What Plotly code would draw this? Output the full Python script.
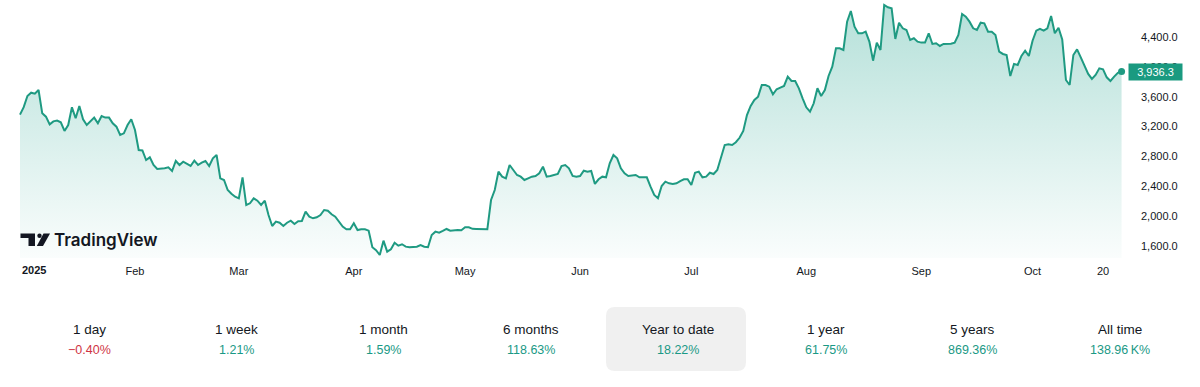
import plotly.graph_objects as go
import pandas as pd

# ---- data (daily closes) ----
jan = [3360, 3460, 3610, 3654, 3640, 3690, 3378, 3333, 3230, 3270, 3280, 3258, 3141, 3221, 3458, 3311,
       3476, 3298, 3221, 3266, 3320, 3244, 3342, 3320, 3320, 3244, 3199, 3087, 3110, 3221, 3298]
feb = [3154, 2886, 2880, 2752, 2788, 2685, 2632, 2632, 2641, 2654, 2605, 2739, 2685, 2730, 2699, 2672,
       2743, 2685, 2716, 2739, 2672, 2775, 2819, 2507, 2484, 2350, 2300, 2260]
mar = [2239, 2520, 2149, 2172, 2239, 2207, 2149, 2207, 2015, 1868, 1926, 1912, 1868, 1912, 1939, 1895,
       1931, 1935, 2060, 1993, 1971, 1985, 2015, 2082, 2073, 2025, 1993, 1926, 1859, 1824, 1824]
apr = [1904, 1814, 1824, 1824, 1805, 1583, 1545, 1479, 1671, 1524, 1556, 1644, 1604, 1623, 1591, 1583,
       1587, 1591, 1613, 1591, 1583, 1747, 1792, 1778, 1801, 1828, 1805, 1814, 1814, 1810]
may = [1850, 1850, 1830, 1828, 1828, 1824, 1824, 2216, 2350, 2596, 2529, 2507, 2685, 2618, 2551, 2529,
       2484, 2507, 2529, 2538, 2574, 2663, 2529, 2538, 2550, 2565, 2672, 2685, 2641, 2538, 2529]
jun = [2538, 2609, 2596, 2605, 2431, 2494, 2529, 2520, 2708, 2819, 2775, 2641, 2574, 2538, 2545, 2551,
       2520, 2520, 2520, 2395, 2283, 2239, 2404, 2462, 2440, 2431, 2440, 2470, 2494, 2494]
jul = [2417, 2582, 2596, 2520, 2529, 2582, 2565, 2618, 2775, 2953, 2962, 2953, 2990, 3050, 3141, 3355,
       3476, 3556, 3601, 3757, 3757, 3735, 3633, 3700, 3722, 3744, 3869, 3811, 3811, 3713, 3579]
aug = [3458, 3400, 3512, 3713, 3610, 3690, 3878, 4003, 4249, 4249, 4226, 4606, 4749, 4539, 4450, 4450,
       4472, 4338, 4083, 4325, 4226, 4829, 4798, 4785, 4374, 4592, 4517, 4494, 4360, 4383, 4338]
sep = [4325, 4325, 4450, 4307, 4316, 4280, 4307, 4307, 4310, 4325, 4427, 4709, 4673, 4606, 4517, 4494,
       4592, 4583, 4472, 4472, 4427, 4204, 4173, 4159, 3878, 4039, 4025, 4146, 4217, 4146]
octo = [4351, 4485, 4508, 4485, 4517, 4682, 4450, 4525, 4369, 3824, 3757, 4159, 4235, 4128, 4003, 3905,
        3838, 3892, 3981, 3968, 3860, 3811, 3869, 3920, 3936.3]

price = jan + feb + mar + apr + may + jun + jul + aug + sep + octo
dates = pd.date_range("2025-01-01", periods=len(price), freq="D")

year_label = "2025"
x_tick_dates = ["2025-02-01", "2025-03-01", "2025-04-01", "2025-05-01", "2025-06-01",
                "2025-07-01", "2025-08-01", "2025-09-01", "2025-10-01", "2025-10-20"]
x_tick_text = ["Feb", "Mar", "Apr", "May", "Jun", "Jul", "Aug", "Sep", "Oct", "20"]

y_ticks = [1600, 2000, 2400, 2800, 3200, 3600, 4000, 4400]
y_tick_text = [f"{v:,.1f}" for v in y_ticks]

periods = ["1 day", "1 week", "1 month", "6 months", "Year to date", "1 year", "5 years", "All time"]
changes = ["\u22120.40%", "1.21%", "1.59%", "118.63%", "18.22%", "61.75%", "869.36%", "138.96\u2009K%"]
negative = [True, False, False, False, False, False, False, False]

# ---- styling / geometry ----
W, H = 1200, 387
ML, MR, MT, MB = 0, 68, 0, 129
PW, PH = W - ML - MR, H - MT - MB
LINE = "#1f9a82"
GREEN = "#1a9985"
RED = "#cf3545"
TXT = "#131722"
FONT = "Liberation Sans"

def px(x):
    return (x - ML) / PW

def py(y):
    return 1 - (y - MT) / PH

day_px = 3.709
x0_px = 20
start = dates[0]
x_range = [start - pd.Timedelta(days=(x0_px - ML) / day_px),
           start + pd.Timedelta(days=(ML + PW - x0_px) / day_px)]
y_range = [1439, 4896]

fig = go.Figure()
fig.add_trace(go.Scatter(
    x=dates, y=price, mode="lines",
    line=dict(color=LINE, width=2),
    fill="tozeroy",
    fillgradient=dict(type="vertical", start=y_range[0], stop=max(price),
                      colorscale=[[0, "rgba(8,153,129,0.02)"], [1, "rgba(8,153,129,0.30)"]]),
    hoverinfo="skip", showlegend=False,
))
fig.add_trace(go.Scatter(
    x=[dates[-1]], y=[price[-1]], mode="markers",
    marker=dict(color=LINE, size=7), hoverinfo="skip", showlegend=False,
))

shapes = []
# highlighted "Year to date" box (rounded)
bx0, bx1, by0, by1, r = 606, 746, 307, 371, 9
pts = (f"M {px(bx0 + r)},{py(by0)} L {px(bx1 - r)},{py(by0)} Q {px(bx1)},{py(by0)} {px(bx1)},{py(by0 + r)} "
       f"L {px(bx1)},{py(by1 - r)} Q {px(bx1)},{py(by1)} {px(bx1 - r)},{py(by1)} "
       f"L {px(bx0 + r)},{py(by1)} Q {px(bx0)},{py(by1)} {px(bx0)},{py(by1 - r)} "
       f"L {px(bx0)},{py(by0 + r)} Q {px(bx0)},{py(by0)} {px(bx0 + r)},{py(by0)} Z")
shapes.append(dict(type="path", xref="paper", yref="paper", path=pts,
                   fillcolor="#f0f0f0", line=dict(width=0), layer="below"))

# TradingView logo glyph
def poly(points):
    return "M " + " L ".join(f"{px(a)},{py(b)}" for a, b in points) + " Z"

logo_col = "#131722"
shapes.append(dict(type="path", xref="paper", yref="paper", line=dict(width=0), fillcolor=logo_col,
                   path=poly([(20.5, 233.5), (35, 233.5), (35, 246), (28.5, 246), (28.5, 238), (20.5, 238)])))
shapes.append(dict(type="circle", xref="paper", yref="paper", line=dict(width=0), fillcolor=logo_col,
                   x0=px(37.3), x1=px(41.7), y0=py(233.6), y1=py(238.0)))
shapes.append(dict(type="path", xref="paper", yref="paper", line=dict(width=0), fillcolor=logo_col,
                   path=poly([(43.5, 233.5), (50, 233.5), (43, 246), (36.8, 246)])))

annotations = []
annotations.append(dict(xref="paper", yref="paper", x=px(52), y=py(240), xanchor="left", yanchor="middle",
                        text="TradingView", showarrow=False,
                        font=dict(family="Inter", size=17, color=logo_col, weight=600)))
annotations.append(dict(xref="x", yref="paper", x=dates[0], y=py(270), xanchor="left", yanchor="middle",
                        text=f"<b>{year_label}</b>", showarrow=False,
                        font=dict(family=FONT, size=11, color=TXT)))
# last price tag
annotations.append(dict(xref="paper", yref="y", x=1, y=price[-1], xanchor="left", yanchor="middle",
                        xshift=-4, text=f"{price[-1]:,.1f}", showarrow=False,
                        bgcolor="#1a9a80", borderpad=2, width=49,
                        font=dict(family=FONT, size=11, color="white")))
# performance row
for i, (p, c, neg) in enumerate(zip(periods, changes, negative)):
    cx = 89.5 + 147.2 * i
    annotations.append(dict(xref="paper", yref="paper", x=px(cx), y=py(329), xanchor="center",
                            yanchor="middle", text=p, showarrow=False,
                            font=dict(family=FONT, size=13.5, color=TXT)))
    annotations.append(dict(xref="paper", yref="paper", x=px(cx), y=py(350), xanchor="center",
                            yanchor="middle", text=c, showarrow=False,
                            font=dict(family=FONT, size=12.5, color=RED if neg else GREEN)))

fig.update_layout(
    width=W, height=H, autosize=False,
    margin=dict(l=ML, r=MR, t=MT, b=MB, pad=0),
    paper_bgcolor="white", plot_bgcolor="white",
    shapes=shapes, annotations=annotations,
    xaxis=dict(range=x_range, type="date", showgrid=False, zeroline=False, showline=False,
               tickvals=x_tick_dates, ticktext=x_tick_text, ticks="", ticklabelstandoff=5,
               tickfont=dict(family=FONT, size=11, color=TXT), fixedrange=True),
    yaxis=dict(range=y_range, side="right", showgrid=False, zeroline=False, showline=False,
               tickvals=y_ticks, ticktext=y_tick_text, ticks="", ticklabelstandoff=8,
               tickfont=dict(family=FONT, size=11, color=TXT), fixedrange=True),
)

fig.write_html("out.html", config={"displayModeBar": False},
               post_script="document.body.style.margin='0';document.body.style.overflow='hidden';")
